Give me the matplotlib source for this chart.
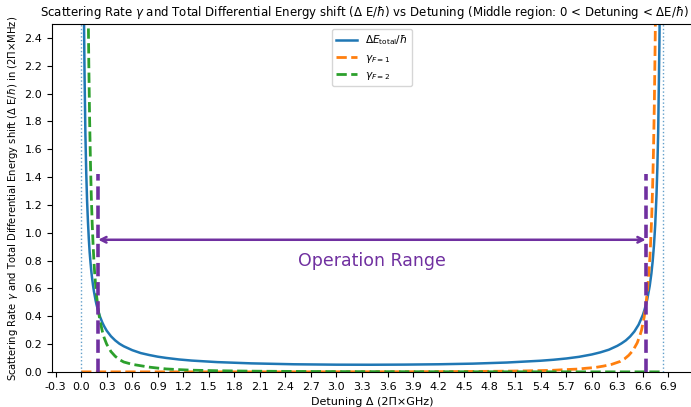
import matplotlib
matplotlib.use('Agg')
import matplotlib.pyplot as plt
from matplotlib.ticker import MultipleLocator, FormatStrFormatter

# detuning splitting dE/hbar in 2pi x GHz
DELTA_E = 6.834
OP_MARGIN = 0.2
ARROW_Y = 0.95

# total differential energy shift
det_total = [0.03, 0.035, 0.04, 0.05, 0.06, 0.07, 0.08, 0.09, 0.1, 0.11, 0.12, 0.13,
             0.14, 0.15, 0.17, 0.18, 0.2, 0.22, 0.25, 0.27, 0.3, 0.35, 0.4, 0.45,
             0.5, 0.6, 0.7, 0.8, 0.9, 1.0, 1.15, 1.3, 1.6, 2.0, 2.5, 3.0, 3.4,
             3.8, 4.2, 4.6, 5.0, 5.4, 5.55, 5.7, 5.85, 6.0, 6.1, 6.2, 6.3, 6.35,
             6.4, 6.45, 6.5, 6.55, 6.6, 6.62, 6.65, 6.68, 6.7, 6.715, 6.73,
             6.745, 6.76, 6.77, 6.78, 6.795, 6.80]
shift_total = [2.85, 2.44, 2.14, 1.71, 1.43, 1.228, 1.08, 0.958, 0.86, 0.787, 0.72, 0.668,
               0.621, 0.58, 0.514, 0.486, 0.44, 0.40, 0.354, 0.329, 0.297, 0.257, 0.227, 0.203,
               0.185, 0.157, 0.136, 0.122, 0.110, 0.101, 0.090, 0.082, 0.071, 0.062, 0.0555,
               0.0526, 0.0521, 0.0531, 0.0555, 0.060, 0.068, 0.081, 0.088, 0.097, 0.109,
               0.126, 0.141, 0.160, 0.188, 0.206, 0.227, 0.255, 0.291, 0.340, 0.41, 0.448,
               0.518, 0.617, 0.707, 0.795, 0.907, 1.058, 1.27, 1.466, 1.73, 2.40, 2.75]

# scattering rate F=2 (diverges at zero detuning)
det_f2 = [0.08, 0.085, 0.09, 0.1, 0.11, 0.12, 0.13, 0.14, 0.15, 0.16, 0.18, 0.2,
          0.22, 0.25, 0.27, 0.3, 0.35, 0.4, 0.45, 0.5, 0.6, 0.7, 0.8, 0.9, 1.0,
          1.15, 1.3, 1.6, 2.0, 2.5, 3.0, 4.0, 5.0, 6.0, 6.834]
gamma_f2 = [2.81, 2.49, 2.22, 1.80, 1.49, 1.25, 1.065, 0.92, 0.80, 0.70, 0.556, 0.45,
            0.372, 0.29, 0.247, 0.20, 0.147, 0.113, 0.089, 0.072, 0.055, 0.045, 0.035,
            0.028, 0.022, 0.017, 0.013, 0.009, 0.006, 0.004, 0.003, 0.002, 0.0015,
            0.001, 0.001]

# scattering rate F=1 (diverges at dE/hbar)
det_f1 = [0.0, 0.834, 1.834, 2.834, 3.834, 4.334, 4.834, 5.234, 5.534, 5.684, 5.834,
          5.934, 6.034, 6.134, 6.234, 6.334, 6.384, 6.434, 6.484, 6.534, 6.564, 6.584,
          6.614, 6.634, 6.654, 6.674, 6.684, 6.694, 6.704, 6.714, 6.724, 6.734,
          6.744, 6.749, 6.754]
gamma_f1 = [0.001, 0.001, 0.001, 0.0015, 0.002, 0.003, 0.005, 0.008, 0.012, 0.017,
            0.021, 0.027, 0.032, 0.042, 0.055, 0.076, 0.094, 0.12, 0.155, 0.21, 0.26,
            0.30, 0.39, 0.475, 0.59, 0.74, 0.84, 0.97, 1.12, 1.32, 1.57, 1.90, 2.35,
            2.63, 2.97]

fig = plt.figure(figsize=(6.91, 4.07), dpi=100)
ax = fig.add_axes([0.0753, 0.086, 0.926, 0.855])

ax.plot(det_total, shift_total, color='C0', lw=1.8, label=r'$\Delta E_{\rm total}/\hbar$')
ax.plot(det_f1, gamma_f1, color='C1', ls='--', lw=2, label=r'$\gamma_{F=1}$')
ax.plot(det_f2, gamma_f2, color='C2', ls='--', lw=2, label=r'$\gamma_{F=2}$')

# resonance markers
ax.axvline(0, color='C0', ls=':', lw=1, alpha=0.7)
ax.axvline(DELTA_E, color='C0', ls=':', lw=1, alpha=0.7)

# operating window
purple = '#7030a0'
ax.vlines([OP_MARGIN, DELTA_E - OP_MARGIN], 0, 1.42, colors=purple, linestyles='--', lw=2.6)
ax.annotate('', xy=(DELTA_E - OP_MARGIN, ARROW_Y), xytext=(OP_MARGIN, ARROW_Y),
            arrowprops=dict(arrowstyle='<->', color=purple, lw=1.8,
                            shrinkA=0, shrinkB=0))
ax.text(DELTA_E / 2, 0.80, 'Operation Range', color=purple, fontsize=12.5,
        ha='center', va='center')

ax.set_xlim(-0.342, 7.176)
ax.set_ylim(0, 2.5)
ax.xaxis.set_major_locator(MultipleLocator(0.3))
ax.xaxis.set_major_formatter(FormatStrFormatter('%.1f'))
ax.yaxis.set_major_locator(MultipleLocator(0.2))
ax.yaxis.set_major_formatter(FormatStrFormatter('%.1f'))
ax.tick_params(labelsize=8)

ax.set_xlabel('Detuning Δ (2Π×GHz)', fontsize=8)
ax.set_ylabel(r'Scattering Rate $\gamma$ and Total Differential Energy shift ($\Delta$ E/$\hbar$) in (2Π×MHz)',
              fontsize=7.2, labelpad=3)
ax.set_title(r'Scattering Rate $\gamma$ and Total Differential Energy shift ($\Delta$ E/$\hbar$) '
             r'vs Detuning (Middle region: 0 < Detuning < $\Delta$E/$\hbar$)', fontsize=8.45, x=0.488)
ax.legend(loc='upper center', fontsize=7.6)

fig.savefig('out.png', dpi=100)
